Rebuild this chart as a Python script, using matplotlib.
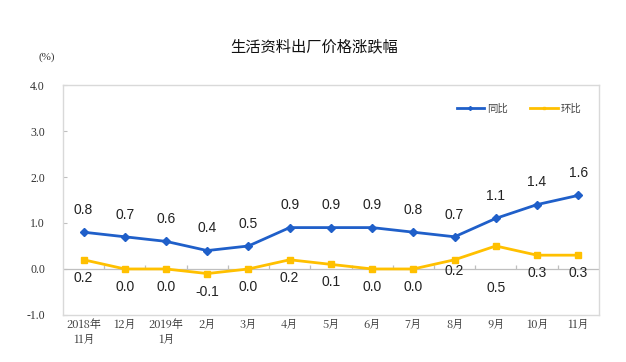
import matplotlib
matplotlib.use("Agg")
import matplotlib.pyplot as plt
import numpy as np

categories = ["2018年\n11月", "12月", "2019年\n1月", "2月", "3月", "4月", "5月",
              "6月", "7月", "8月", "9月", "10月", "11月"]
yoy = [0.8, 0.7, 0.6, 0.4, 0.5, 0.9, 0.9, 0.9, 0.8, 0.7, 1.1, 1.4, 1.6]
mom = [0.2, 0.0, 0.0, -0.1, 0.0, 0.2, 0.1, 0.0, 0.0, 0.2, 0.5, 0.3, 0.3]
yticks = [-1.0, 0.0, 1.0, 2.0, 3.0, 4.0]

# label offsets (points) for the 环比 labels, as placed in the original
mom_label_off = [-13, -13, -13, -13, -13, -13, -13, -13, -13, -8, -30, -13, -13]

plt.rcParams['font.family'] = ['Noto Sans CJK SC', 'DejaVu Sans']

fig = plt.figure(figsize=(6.26, 3.62), dpi=100)
ax = fig.add_axes([0.1006, 0.130, 0.856, 0.635])

x = np.arange(len(categories))
blue = "#1F5FC9"
yellow = "#FFC000"

ax.plot(x, yoy, color=blue, lw=2.0, marker='D', ms=4, label="同比", zorder=3)
ax.plot(x, mom, color=yellow, lw=2.0, marker='s', ms=4, label="环比", zorder=3)

for xi, v in zip(x, yoy):
    ax.annotate(f"{v:.1f}", (xi, v), xytext=(0, 11), textcoords="offset points",
                ha='center', va='bottom', fontsize=10, family='Liberation Sans',
                color='#222222')
for xi, v, off in zip(x, mom, mom_label_off):
    ax.annotate(f"{v:.1f}", (xi, v), xytext=(0, off), textcoords="offset points",
                ha='center', va='center', fontsize=10, family='Liberation Sans',
                color='#222222')

ax.set_xlim(-0.5, len(categories) - 0.5)
ax.set_ylim(-1.0, 4.0)
ax.set_yticks(yticks)
ax.set_yticklabels([f"{t:.1f}" for t in yticks], family='Liberation Serif',
                   fontsize=8.5, color='#333333')
ax.tick_params(axis='y', direction='in', length=3, color='#BFBFBF', pad=13)

ax.set_xticks(x)
ax.set_xticklabels(categories, fontsize=8, color='#333333', linespacing=1.3,
                   family=['Noto Serif CJK SC', 'Noto Sans CJK SC', 'DejaVu Sans'])
ax.tick_params(axis='x', length=0, pad=3)

for s in ax.spines.values():
    s.set_color('#D9D9D9')
    s.set_linewidth(1.0)

ax.axhline(0, color='#BFBFBF', lw=0.9, zorder=1)
ax.vlines(np.arange(len(categories) - 1) + 0.5, 0, 0.08, color='#BFBFBF', lw=0.9, zorder=1)

leg = ax.legend(loc='upper right', bbox_to_anchor=(0.985, 0.96), ncol=2, frameon=False,
                fontsize=7.5, handlelength=2.6, columnspacing=2.2, handletextpad=0.3,
                markerscale=0.5)
for t in leg.get_texts():
    t.set_color('#444444')

fig.text(0.502, 0.87, "生活资料出厂价格涨跌幅", ha='center', va='center', fontsize=11,
         color='#111111')
fig.text(0.074, 0.842, "(%)", ha='center', va='center', fontsize=8,
         family='Liberation Serif', color='#333333')

fig.savefig("out.png", dpi=100)
